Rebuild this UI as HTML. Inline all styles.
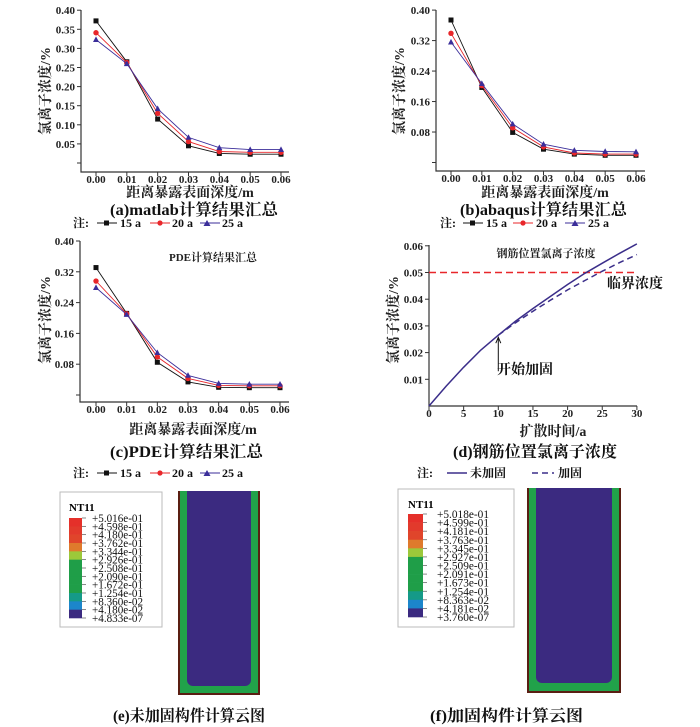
<!DOCTYPE html>
<html><head><meta charset="utf-8">
<style>
body{margin:0;background:#fff;}
svg{display:block;font-family:"Liberation Serif","Noto Serif CJK SC",serif;}
.tk{font-size:11px;font-weight:bold;fill:#222;}
.lab{font-size:14px;font-weight:bold;fill:#222;}
.cap{font-size:16px;fill:#111;font-weight:bold;}
.leg{font-size:12px;font-weight:bold;fill:#111;}
.cb{font-size:12px;fill:#111;}
</style></head>
<body>
<svg id="fig" width="700" height="727" viewBox="0 0 700 727" xmlns="http://www.w3.org/2000/svg">
<g id="ga"></g>
<g id="gb"></g>
<g id="gc"></g>
<g id="gd"></g>

<text class="lab" transform="translate(50,91) rotate(-90)" text-anchor="middle">氯离子浓度/%</text>
<text class="lab" x="190" y="197" text-anchor="middle">距离暴露表面深度/m</text>
<text class="cap" x="110" y="215" textLength="168" lengthAdjust="spacingAndGlyphs">(a)matlab计算结果汇总</text>

<text class="lab" transform="translate(404,91) rotate(-90)" text-anchor="middle">氯离子浓度/%</text>
<text class="lab" x="545" y="197" text-anchor="middle">距离暴露表面深度/m</text>
<text class="cap" x="460" y="215" textLength="167" lengthAdjust="spacingAndGlyphs">(b)abaqus计算结果汇总</text>

<text class="lab" transform="translate(50,320) rotate(-90)" text-anchor="middle">氯离子浓度/%</text>
<text class="lab" x="193" y="434" text-anchor="middle">距离暴露表面深度/m</text>
<text x="213" y="261" text-anchor="middle" style="font-size:11px;font-weight:bold;fill:#222">PDE计算结果汇总</text>
<text class="cap" x="110" y="457" textLength="153" lengthAdjust="spacingAndGlyphs">(c)PDE计算结果汇总</text>

<text class="lab" transform="translate(398,320) rotate(-90)" text-anchor="middle">氯离子浓度/%</text>
<text class="lab" x="553" y="436" text-anchor="middle">扩散时间/a</text>
<text class="cap" x="453" y="457" textLength="164" lengthAdjust="spacingAndGlyphs">(d)钢筋位置氯离子浓度</text>
<text x="546" y="257" text-anchor="middle" style="font-size:11px;font-weight:bold;fill:#222">钢筋位置氯离子浓度</text>
<text x="607" y="288" style="font-size:14px;font-weight:bold;fill:#111">临界浓度</text>
<text x="497" y="374" style="font-size:14px;font-weight:bold;fill:#111">开始加固</text>

<g>
<text class="leg" x="73" y="227">注:</text>
<line x1="97" y1="223" x2="117" y2="223" stroke="#111"/><rect x="104" y="220.5" width="5" height="5" fill="#111"/><text class="leg" x="120" y="227">15 a</text>
<line x1="150" y1="223" x2="170" y2="223" stroke="#e8262a"/><circle cx="160" cy="223" r="2.6" fill="#e8262a"/><text class="leg" x="172" y="227">20 a</text>
<line x1="200" y1="223" x2="220" y2="223" stroke="#3b2e9a"/><path d="M207,220 L210.5,226 L203.5,226Z" fill="#3b2e9a"/><text class="leg" x="222" y="227">25 a</text>
</g>
<g>
<text class="leg" x="440" y="227">注:</text>
<line x1="463" y1="223" x2="483" y2="223" stroke="#111"/><rect x="470" y="220.5" width="5" height="5" fill="#111"/><text class="leg" x="486" y="227">15 a</text>
<line x1="513" y1="223" x2="533" y2="223" stroke="#e8262a"/><circle cx="523" cy="223" r="2.6" fill="#e8262a"/><text class="leg" x="536" y="227">20 a</text>
<line x1="565" y1="223" x2="585" y2="223" stroke="#3b2e9a"/><path d="M575,220 L578.5,226 L571.5,226Z" fill="#3b2e9a"/><text class="leg" x="588" y="227">25 a</text>
</g>
<g>
<text class="leg" x="73" y="477">注:</text>
<line x1="97" y1="473" x2="117" y2="473" stroke="#111"/><rect x="104" y="470.5" width="5" height="5" fill="#111"/><text class="leg" x="120" y="477">15 a</text>
<line x1="150" y1="473" x2="170" y2="473" stroke="#e8262a"/><circle cx="160" cy="473" r="2.6" fill="#e8262a"/><text class="leg" x="172" y="477">20 a</text>
<line x1="200" y1="473" x2="220" y2="473" stroke="#3b2e9a"/><path d="M207,470 L210.5,476 L203.5,476Z" fill="#3b2e9a"/><text class="leg" x="222" y="477">25 a</text>
</g>
<g>
<text class="leg" x="417" y="477">注:</text>
<line x1="447" y1="473" x2="467" y2="473" stroke="#3b2e8a" stroke-width="1.6"/><text class="leg" x="470" y="477">未加固</text>
<line x1="532" y1="473" x2="554" y2="473" stroke="#3b2e8a" stroke-width="1.6" stroke-dasharray="6,4"/><text class="leg" x="558" y="477">加固</text>
</g>

<g>
<rect x="60" y="492" width="102" height="135" fill="#fff" stroke="#bbb"/>
<text x="69" y="511" style="font-size:11px;font-weight:bold">NT11</text>
<g id="cbe"></g>
</g>
<g>
<rect x="178" y="491" width="82" height="204" fill="#5a1e12"/>
<rect x="180" y="491" width="78" height="202" fill="#21a24a"/>
<rect x="187" y="491" width="64" height="195" rx="6" fill="#3b2a80"/>
<rect x="187" y="491" width="64" height="20" fill="#3b2a80"/>
</g>
<text class="cap" x="113" y="721" textLength="152" lengthAdjust="spacingAndGlyphs">(e)未加固构件计算云图</text>

<g>
<rect x="398" y="489" width="116" height="138" fill="#fff" stroke="#bbb"/>
<text x="408" y="508" style="font-size:11px;font-weight:bold">NT11</text>
<g id="cbf"></g>
</g>
<g>
<rect x="527" y="488" width="94" height="205" fill="#5a1e12"/>
<rect x="529" y="488" width="90" height="203" fill="#21a24a"/>
<rect x="536" y="488" width="76" height="195" rx="6" fill="#3b2a80"/>
<rect x="536" y="488" width="76" height="20" fill="#3b2a80"/>
</g>
<text class="cap" x="430" y="721" textLength="153" lengthAdjust="spacingAndGlyphs">(f)加固构件计算云图</text>
</svg>

<script>
var NS="http://www.w3.org/2000/svg";
var depthCats=[0,0.01,0.02,0.03,0.04,0.05,0.06];
var depthTickLabels=["0.00","0.01","0.02","0.03","0.04","0.05","0.06"];
var aTicks=[0,0.05,0.10,0.15,0.20,0.25,0.30,0.35,0.40];
var aTickLabels=["","0.05","0.10","0.15","0.20","0.25","0.30","0.35","0.40"];
var a15=[0.372,0.265,0.115,0.045,0.025,0.023,0.023];
var a20=[0.341,0.263,0.130,0.056,0.030,0.028,0.028];
var a25=[0.323,0.260,0.142,0.067,0.040,0.035,0.035];
var bcTicks=[0,0.08,0.16,0.24,0.32,0.40];
var bcTickLabels=["","0.08","0.16","0.24","0.32","0.40"];
var b15=[0.374,0.197,0.079,0.035,0.022,0.019,0.019];
var b20=[0.339,0.202,0.091,0.041,0.025,0.022,0.022];
var b25=[0.316,0.207,0.101,0.048,0.032,0.029,0.028];
var c15=[0.331,0.212,0.085,0.034,0.020,0.019,0.019];
var c20=[0.296,0.211,0.099,0.043,0.025,0.024,0.024];
var c25=[0.279,0.209,0.110,0.051,0.030,0.028,0.028];
var dTimes=[0,2.5,5,7.5,10,12.5,15,17.5,20,22.5,25,27.5,30];
var dUnreinforced=[0,0.0075,0.0145,0.021,0.0265,0.0318,0.0365,0.041,0.0455,0.0497,0.0535,0.0572,0.0607];
var dReinforcedTimes=[10,12.5,15,17.5,20,22.5,25,27.5,30];
var dReinforced=[0.0265,0.0312,0.0355,0.0396,0.0435,0.047,0.0505,0.0537,0.0567];
var dCritical=0.05;
var dStartTime=10;
var dXTicks=[0,5,10,15,20,25,30];
var dXTickLabels=["0","5","10","15","20","25","30"];
var dYTicks=[0.01,0.02,0.03,0.04,0.05,0.06];
var dYTickLabels=["0.01","0.02","0.03","0.04","0.05","0.06"];
var cbLabelsE=["+5.016e-01","+4.598e-01","+4.180e-01","+3.762e-01","+3.344e-01","+2.926e-01","+2.508e-01","+2.090e-01","+1.672e-01","+1.254e-01","+8.360e-02","+4.180e-02","+4.833e-07"];
var cbLabelsF=["+5.018e-01","+4.599e-01","+4.181e-01","+3.763e-01","+3.345e-01","+2.927e-01","+2.509e-01","+2.091e-01","+1.673e-01","+1.254e-01","+8.363e-02","+4.181e-02","+3.760e-07"];
var cbColors=["#e5302a","#e23a2c","#e0452b","#df7a2c","#9cc83a","#1f9e48","#1f9e48","#1f9e48","#1f9e48","#159a88","#1c86cb","#3b2a80"];

function mk(tag,attrs,parent){var e=document.createElementNS(NS,tag);for(var k in attrs)e.setAttribute(k,attrs[k]);parent.appendChild(e);return e;}

function axes(g,c){
  var ax=mk("path",{d:"M"+c.ax+","+c.top+" L"+c.ax+","+c.bot+" L"+c.xEnd+","+c.bot,fill:"none",stroke:"#333","stroke-width":1.2},g);
  
  
  c.yTicks.forEach(function(v,i){
    var y=c.y(v);
    var t=mk("line",{x1:c.ax-4,y1:y,x2:c.ax,y2:y,stroke:"#333"},g);
    
    
    var l=mk("text",{x:c.ax-6,y:y+4,"text-anchor":"end","class":"tk"},g);
    l.textContent=c.yLabels[i];
    
    
  });
  c.xTicks.forEach(function(v,i){
    var x=c.x(v);
    var t=mk("line",{x1:x,y1:c.bot,x2:x,y2:c.bot+4,stroke:"#333"},g);
    
    
    var l=mk("text",{x:x,y:c.bot+11,"text-anchor":"middle","class":"tk"},g);
    l.textContent=c.xLabels[i];
    
    
  });
}
function series(g,c,xs,vals,color,marker,name){
  var pts=vals.map(function(v,i){return c.x(xs[i]).toFixed(1)+","+c.y(v).toFixed(1);}).join(" ");
  var pl=mk("polyline",{points:pts,fill:"none",stroke:color,"stroke-width":0.9},g);
  
  
  vals.forEach(function(v,i){
    var x=c.x(xs[i]),y=c.y(v),m;
    if(marker=="sq")m=mk("rect",{x:x-2.5,y:y-2.5,width:5,height:5,fill:color},g);
    else if(marker=="ci")m=mk("circle",{cx:x,cy:y,r:2.7,fill:color},g);
    else m=mk("path",{d:"M"+x+","+(y-3.2)+" L"+(x+3)+","+(y+2.4)+" L"+(x-3)+","+(y+2.4)+"Z",fill:color},g);
    
    
  });
}
function depthChart(id,c,s15,s20,s25){
  var g=document.getElementById(id);
  axes(g,c);
  series(g,c,depthCats,s15,"#111","sq","series-15a");
  series(g,c,depthCats,s20,"#e8262a","ci","series-20a");
  series(g,c,depthCats,s25,"#3b2e9a","tr","series-25a");
}
depthChart("ga",{ax:81,top:10,bot:172,xEnd:289,x:function(v){return 96+v/0.06*185;},y:function(v){return 163-v*382;},yTicks:aTicks,yLabels:aTickLabels,xTicks:depthCats,xLabels:depthTickLabels},a15,a20,a25);
depthChart("gb",{ax:436,top:10,bot:171,xEnd:645,x:function(v){return 451+v/0.06*185;},y:function(v){return 162.5-v*381;},yTicks:bcTicks,yLabels:bcTickLabels,xTicks:depthCats,xLabels:depthTickLabels},b15,b20,b25);
depthChart("gc",{ax:80,top:241,bot:402,xEnd:289,x:function(v){return 96+v/0.06*184;},y:function(v){return 395-v*385;},yTicks:bcTicks,yLabels:bcTickLabels,xTicks:depthCats,xLabels:depthTickLabels},c15,c20,c25);

(function(){
  var g=document.getElementById("gd");
  var c={ax:429,top:245,bot:406,xEnd:637,x:function(t){return 429+t*6.93;},y:function(v){return 406-v*2670;},yTicks:dYTicks,yLabels:dYTickLabels,xTicks:dXTicks,xLabels:dXTickLabels};
  axes(g,c);
  var crit=mk("line",{x1:c.x(0),y1:c.y(dCritical),x2:c.x(30),y2:c.y(dCritical),stroke:"#e8262a","stroke-width":1.5,"stroke-dasharray":"7,4"},g);
  
  
  var p1=dUnreinforced.map(function(v,i){return c.x(dTimes[i]).toFixed(1)+","+c.y(v).toFixed(1);}).join(" ");
  var l1=mk("polyline",{points:p1,fill:"none",stroke:"#3b2e8a","stroke-width":1.5,"stroke-linejoin":"round"},g);
  
  
  var p2=dReinforced.map(function(v,i){return c.x(dReinforcedTimes[i]).toFixed(1)+","+c.y(v).toFixed(1);}).join(" ");
  var l2=mk("polyline",{points:p2,fill:"none",stroke:"#3b2e8a","stroke-width":1.5,"stroke-dasharray":"6,4"},g);
  
  
  var ax=c.x(dStartTime),ay=c.y(dReinforced[0])+2;
  var ar=mk("path",{d:"M"+ax+","+(ay+34)+" L"+ax+","+ay+" M"+(ax-2.5)+","+(ay+6)+" L"+ax+","+ay+" L"+(ax+2.5)+","+(ay+6),fill:"none",stroke:"#111","stroke-width":1},g);
  
  
})();

function colorbar(id,x,y0,w,h,labels,lx,lw){
  var g=document.getElementById(id);
  var n=cbColors.length,sh=h/n;
  cbColors.forEach(function(col,i){
    var r=mk("rect",{x:x,y:y0+i*sh,width:w,height:sh+0.3,fill:col},g);
    
    
  });
  labels.forEach(function(t,i){
    var yy=y0+i*sh;
    var tk=mk("line",{x1:x+w,y1:yy,x2:x+w+4,y2:yy,stroke:"#555","stroke-width":0.7},g);
    
    
    var tx=mk("text",{x:lx,y:yy+4,"class":"cb",textLength:lw,lengthAdjust:"spacingAndGlyphs"},g);
    tx.textContent=t;
    
    
  });
}
colorbar("cbe",69,518,13,100,cbLabelsE,92,51);
colorbar("cbf",408,514,15,103,cbLabelsF,437,52);
</script>
</body></html>
